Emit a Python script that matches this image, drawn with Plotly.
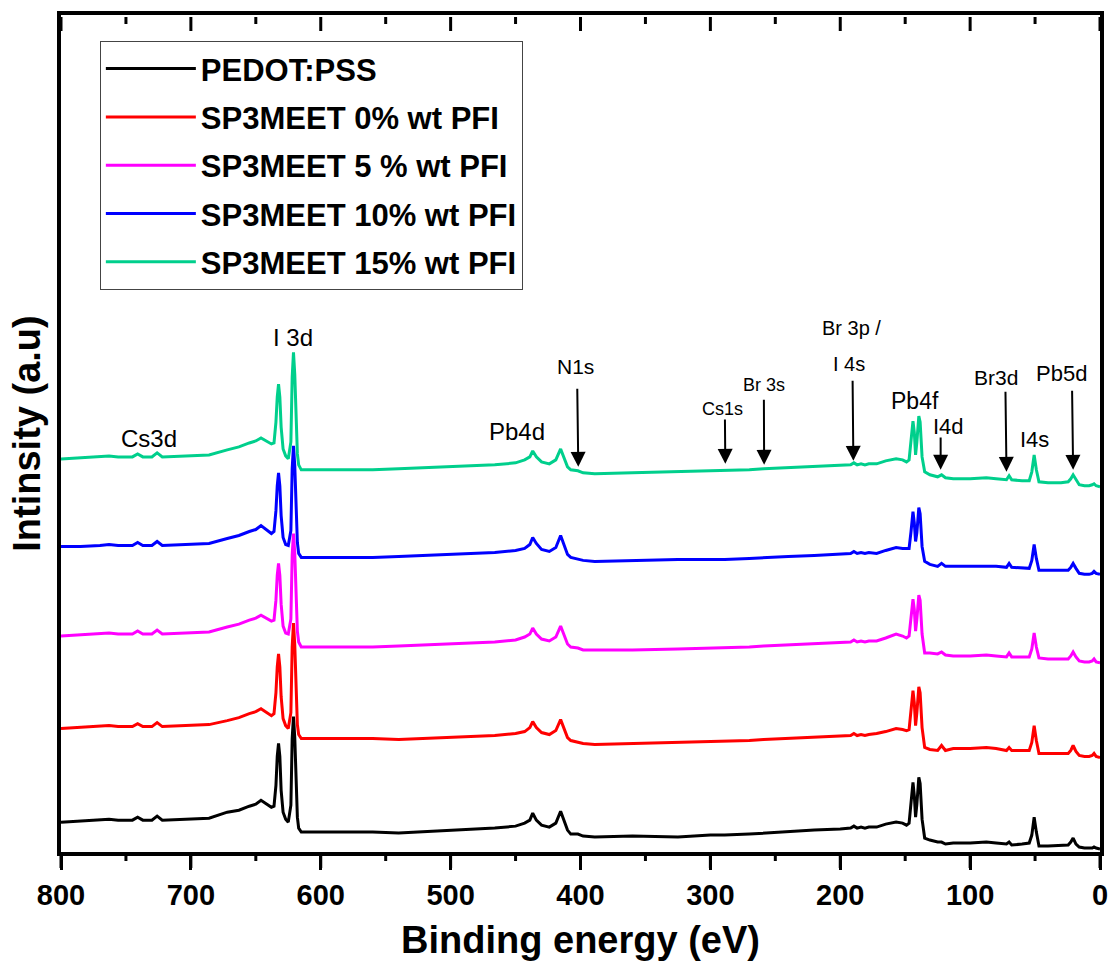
import plotly.graph_objects as go

# Binding energy grid (eV)
energy = [800, 785, 770, 763, 756, 745, 741, 737, 730, 726,
          722, 705, 686, 672, 663, 655, 650, 646, 641, 638,
          636, 634.5, 633.5, 632.5, 631.5, 630.5, 629, 627, 625, 623,
          622, 621, 620, 619, 618, 617, 615, 600, 560, 540,
          500, 466, 450, 443, 439, 436.8, 434, 430, 424, 419,
          415.3, 413, 410, 407.5, 404, 402, 398, 389, 360, 325,
          300, 289, 270, 259, 240, 220, 200, 192, 189.5, 187,
          184, 181, 178, 172, 165, 157, 152, 149, 147, 145.5,
          144, 143, 142, 141, 139.5, 138.5, 137, 135, 131, 125,
          122, 119, 113, 100, 87.5, 80, 72, 70, 68, 60,
          54.5, 52.5, 50.7, 49, 47, 40, 30, 24.5, 22.5, 20.7,
          18.5, 16, 12, 8.4, 6, 4.6, 3, 0]

# Offset intensities (a.u.)
pedot_pss = [30, 31, 32, 33, 32, 32, 35, 32, 32, 36,
             32, 33, 34, 40, 42, 46, 48, 52, 48, 45,
             46, 67, 96, 109, 96, 62, 40, 33, 30, 47,
             114, 136, 115, 67, 35, 24, 20, 20, 20, 19,
             22, 24, 26, 29, 32, 39, 32, 27, 25, 29,
             41, 32, 22, 18, 18, 18, 16, 15, 16, 15,
             17, 17, 18, 19, 20, 22, 23, 24, 26, 24,
             25, 24, 25, 25, 28, 30, 29, 27, 29, 47,
             70, 57, 35, 48, 75, 69, 33, 14, 12, 10,
             10, 8, 9, 9, 10, 9, 8, 10, 7, 8,
             9, 17, 35, 20, 6, 6, 7, 7, 10, 14,
             8, 5, 4, 4, 4, 5, 4, 3]

pfi_0 = [124, 125, 126, 127, 126, 126, 129, 126, 126, 130,
         126, 127, 128, 132, 135, 139, 141, 144, 140, 137,
         139, 160, 186, 199, 186, 156, 134, 127, 124, 140,
         206, 230, 208, 160, 128, 118, 114, 114, 114, 113,
         115, 117, 119, 121, 125, 131, 125, 120, 118, 122,
         133, 125, 115, 112, 111, 110, 109, 108, 109, 110,
         111, 111, 112, 113, 114, 115, 116, 117, 119, 117,
         118, 117, 118, 119, 121, 124, 123, 122, 123, 140,
         162, 150, 127, 140, 166, 160, 125, 105, 103, 102,
         107, 102, 104, 104, 105, 104, 102, 105, 102, 102,
         102, 110, 127, 112, 99, 99, 99, 99, 102, 107,
         101, 97, 96, 96, 97, 99, 96, 95]

pfi_5 = [217, 218, 219, 220, 219, 219, 222, 219, 219, 223,
         219, 220, 221, 226, 229, 233, 235, 238, 234, 232,
         233, 253, 278, 290, 278, 249, 227, 220, 219, 234,
         298, 320, 300, 253, 222, 211, 206, 206, 206, 207,
         209, 211, 213, 216, 219, 225, 219, 214, 212, 216,
         227, 219, 209, 206, 205, 205, 203, 203, 203, 204,
         205, 205, 206, 207, 208, 209, 210, 211, 213, 211,
         212, 211, 212, 212, 215, 219, 217, 215, 217, 234,
         254, 244, 222, 234, 258, 253, 219, 200, 200, 199,
         201, 198, 197, 197, 198, 197, 196, 200, 196, 196,
         196, 204, 220, 206, 195, 194, 194, 194, 197, 201,
         196, 192, 191, 191, 192, 194, 191, 190]

pfi_10 = [307, 307, 308, 309, 308, 308, 311, 308, 308, 312,
          308, 309, 310, 315, 318, 322, 324, 328, 323, 320,
          322, 343, 368, 381, 368, 338, 316, 309, 308, 323,
          385, 408, 388, 343, 311, 300, 296, 296, 296, 297,
          299, 301, 303, 305, 309, 316, 310, 304, 302, 306,
          318, 309, 299, 296, 295, 294, 293, 292, 293, 294,
          294, 294, 295, 296, 297, 298, 299, 300, 302, 300,
          301, 300, 301, 300, 303, 306, 305, 305, 305, 322,
          342, 331, 312, 321, 346, 340, 307, 292, 289, 287,
          290, 287, 287, 287, 287, 287, 286, 290, 286, 285,
          285, 293, 309, 295, 283, 283, 283, 283, 286, 290,
          285, 280, 279, 279, 280, 282, 280, 279]

pfi_15 = [395, 396, 397, 398, 397, 397, 400, 397, 397, 401,
          397, 398, 399, 404, 407, 411, 413, 416, 412, 410,
          411, 432, 457, 470, 457, 427, 405, 398, 395, 412,
          477, 502, 480, 432, 400, 389, 384, 384, 384, 385,
          387, 389, 391, 394, 397, 403, 397, 392, 390, 394,
          405, 397, 387, 384, 383, 383, 381, 380, 381, 382,
          383, 383, 384, 385, 386, 387, 388, 389, 391, 389,
          390, 389, 390, 390, 393, 395, 394, 392, 394, 412,
          433, 422, 399, 412, 438, 432, 397, 382, 379, 377,
          379, 376, 375, 375, 376, 375, 374, 378, 374, 373,
          373, 382, 399, 384, 372, 371, 371, 372, 375, 379,
          374, 369, 368, 368, 369, 370, 368, 367]

series_names = ["PEDOT:PSS", "SP3MEET 0% wt PFI", "SP3MEET 5 % wt PFI",
                "SP3MEET 10% wt PFI", "SP3MEET 15% wt PFI"]
series_values = [pedot_pss, pfi_0, pfi_5, pfi_10, pfi_15]
series_colors = ["#000000", "#FF0000", "#FF00FF", "#0000FF", "#00CF8C"]

# Axis range and tick values (eV)
x_range = [800, 0]
major_ticks = [800, 700, 600, 500, 400, 300, 200, 100, 0]
minor_ticks = [750, 650, 550, 450, 350, 250, 150, 50]

# Peak labels without arrows: (text, energy, intensity, font size)
plain_labels = [("Cs3d", 732, 415, 24), ("I 3d", 621.6, 517, 24),
                ("Pb4d", 449, 423, 24), ("Pb4f", 142.7, 453, 23),
                ("I4s", 50.6, 414, 22)]
# Arrow labels: (text, text energy, text intensity, font size)
arrow_texts = [("N1s", 404, 488, 21), ("Cs1s", 290.5, 445, 18),
               ("Br 3s", 258.6, 469, 18), ("Br 3p /", 191.5, 527, 20),
               ("I 4s", 193, 490, 20), ("I4d", 117, 428, 22),
               ("Br3d", 80, 477, 21), ("Pb5d", 30, 481, 22)]
# Arrows: (tail energy, tail intensity, tip energy, tip intensity)
arrow_lines = [(402.5, 467, 401.7, 387), (288.8, 436, 288.5, 390),
               (258.8, 456, 258.6, 389), (190.5, 475, 189.9, 393),
               (122.7, 418, 122.7, 384), (72.8, 464, 72, 382),
               (21.5, 465, 20.7, 384)]

font_family = "Liberation Sans, Arial, sans-serif"

fig = go.Figure()
for i, (name, vals, col) in enumerate(zip(series_names, series_values, series_colors)):
    fig.add_trace(go.Scatter(
        x=energy, y=vals, mode="lines", name=name,
        line=dict(color=col, width=3),
        legendgroup=f"g{i}",
    ))

annotations = []
for text, e, v, fs in plain_labels + arrow_texts:
    annotations.append(dict(x=e, y=v, xref="x", yref="y", text=text, showarrow=False,
                            font=dict(family=font_family, size=fs, color="black")))
for e0, v0, e1, v1 in arrow_lines:
    annotations.append(dict(x=e1, y=v1, ax=e0, ay=v0, xref="x", yref="y",
                            axref="x", ayref="y", text="", showarrow=True,
                            arrowhead=2, arrowsize=1.5, arrowwidth=2, arrowcolor="black"))

# Tick marks along the frame: inward at the top, outward at the bottom
shapes = []
for ticks_list, length in ((major_ticks, 14), (minor_ticks, 7)):
    for t in ticks_list:
        frac = (x_range[0] - t) / (x_range[0] - x_range[1])  # position along the x domain
        shapes.append(dict(type="line", xref="x", yref="paper", x0=t, x1=t,
                           ysizemode="pixel", yanchor=1, y0=-2, y1=-2 - length,
                           line=dict(color="black", width=3), layer="above"))
        shapes.append(dict(type="line", xref="paper", yref="paper", x0=frac, x1=frac,
                           ysizemode="pixel", yanchor=0, y0=-2, y1=-2 - length,
                           line=dict(color="black", width=3), layer="above"))

fig.update_layout(
    width=1119, height=974,
    margin=dict(l=61, r=15, t=11, b=122),
    plot_bgcolor="white", paper_bgcolor="white",
    font=dict(family=font_family, color="black"),
    showlegend=True,
    legend=dict(x=0.0374, y=0.969, xanchor="left", yanchor="top",
                bordercolor="#444444", borderwidth=1, bgcolor="white",
                font=dict(family=font_family, size=31, weight="bold", color="black"),
                itemwidth=90, tracegroupgap=5),
    xaxis=dict(range=x_range, showline=True, mirror=True, linecolor="black", linewidth=4,
               showgrid=False, zeroline=False,
               tickmode="array", tickvals=major_ticks,
               ticks="outside", ticklen=14, tickwidth=3, tickcolor="black",
               tickfont=dict(family=font_family, size=29, weight="bold"),
               title=dict(text="Binding energy (eV)", standoff=18,
                          font=dict(family=font_family, size=38, weight="bold"))),
    yaxis=dict(range=[0, 841], showline=True, mirror=True, linecolor="black", linewidth=4,
               showgrid=False, zeroline=False, ticks="", showticklabels=False,
               title=dict(text="Intinsity (a.u)", standoff=6,
                          font=dict(family=font_family, size=38, weight="bold"))),
    annotations=annotations,
    shapes=shapes,
)

fig.write_html("out.html")
